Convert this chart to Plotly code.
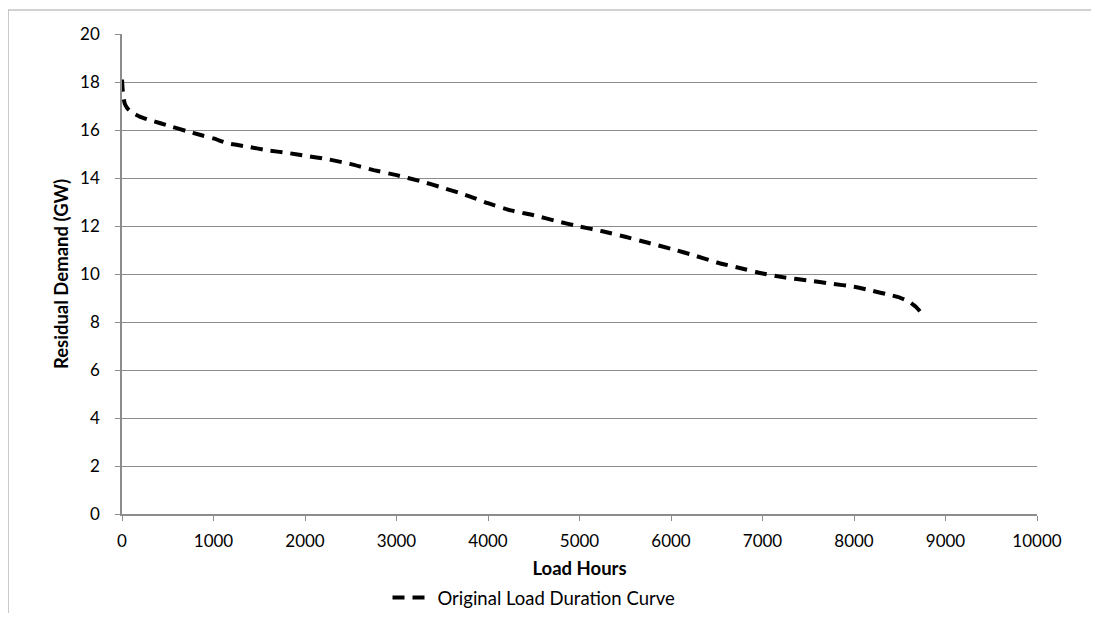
import plotly.graph_objects as go

hours = [0, 5, 12, 30, 60, 120, 200, 300, 420, 550, 700, 850, 1000, 1150, 1350, 1600,
         1800, 2000, 2250, 2500, 2750, 3000, 3250, 3500, 3750, 4000, 4250, 4500, 4750,
         5000, 5250, 5500, 5750, 6000, 6250, 6500, 6750, 7000, 7250, 7500, 7750, 8000,
         8200, 8400, 8500, 8600, 8680, 8730, 8760]
demand = [18.1, 17.8, 17.45, 17.1, 16.9, 16.7, 16.55, 16.42, 16.28, 16.13, 15.96, 15.8,
          15.65, 15.45, 15.32, 15.15, 15.05, 14.93, 14.78, 14.58, 14.33, 14.12, 13.88, 13.6,
          13.3, 12.95, 12.65, 12.45, 12.2, 11.98, 11.78, 11.55, 11.3, 11.05, 10.78, 10.48,
          10.25, 10.02, 9.85, 9.73, 9.6, 9.47, 9.3, 9.12, 9.02, 8.85, 8.62, 8.4, 8.15]

x_ticks = list(range(0, 10001, 1000))
x_labels = [str(v) for v in x_ticks]
y_ticks = list(range(0, 21, 2))

font = "Lato, 'Open Sans', sans-serif"
grid = "#8c8c8c"

fig = go.Figure()
fig.add_trace(go.Scatter(
    x=hours, y=demand, mode="lines", name="Original Load Duration Curve",
    line=dict(color="black", width=4, dash="12px,8px", shape="spline", smoothing=0.4),
))

OFF = 8  # page body margin
W, H = 1099 - 2 * OFF, 621 - 2 * OFF
L, R, T, B = 122 - OFF, 1037 - OFF, 34 - OFF, 514 - OFF
pw, ph = R - L, B - T

def px(x):
    return (x - OFF - L) / pw

def py(y):
    return (B - (y - OFF)) / ph

fig.update_layout(
    width=W, height=H,
    margin=dict(l=L, r=W - R, t=T, b=H - B, pad=0, autoexpand=False),
    paper_bgcolor="white", plot_bgcolor="white",
    font=dict(family=font, size=17, color="black"),
    showlegend=True,
    legend=dict(orientation="h", xref="container", yref="container",
                x=(534 - OFF) / W, xanchor="center",
                y=1 - (598 - OFF) / H, yanchor="middle",
                font=dict(size=18.5), itemwidth=40, bgcolor="rgba(0,0,0,0)"),
    xaxis=dict(range=[0, 10000], tickvals=x_ticks, ticktext=x_labels, showgrid=False,
               zeroline=False, showline=True, linecolor=grid, linewidth=1.5,
               ticks="outside", ticklen=5, tickcolor=grid, ticklabelstandoff=6,
               tickfont=dict(size=17), automargin=False,
               title=dict(text="<b>Load Hours</b>", font=dict(size=18.5), standoff=16)),
    yaxis=dict(range=[0, 20], tickvals=y_ticks, showgrid=True, gridcolor=grid, gridwidth=1.2,
               zeroline=False, showline=True, linecolor=grid, linewidth=1.5,
               ticks="outside", ticklen=5, tickcolor=grid, ticklabelstandoff=12,
               tickfont=dict(size=17), automargin=False,
               title=dict(text="<b>Residual Demand (GW)</b>", font=dict(size=18.5), standoff=7)),
    shapes=[
        dict(type="line", xref="paper", yref="paper", x0=px(8), x1=px(1091), y0=py(10), y1=py(10),
             line=dict(color="#a6a6a6", width=1.2)),
        dict(type="line", xref="paper", yref="paper", x0=px(8), x1=px(8), y0=py(10), y1=py(613),
             line=dict(color="#a6a6a6", width=1.2)),
    ],
)

fig.write_html("out.html")
